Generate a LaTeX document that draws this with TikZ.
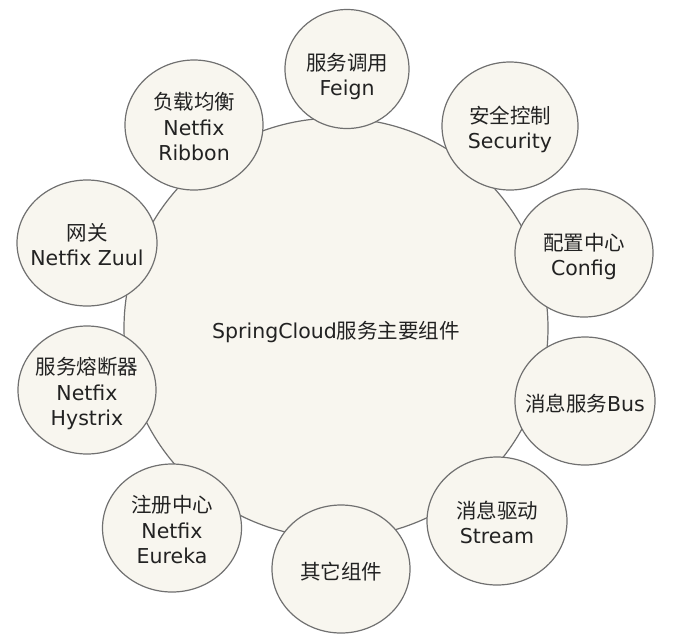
\documentclass[tikz,border=0pt]{standalone}
\usepackage{fontspec}
\setmainfont{DejaVu Sans}
\newfontfamily\cjk{Noto Sans CJK SC}
\usetikzlibrary{shapes.geometric}
\definecolor{rim}{RGB}{112,112,112}
\definecolor{cream}{RGB}{248,246,239}
\definecolor{ink}{RGB}{34,34,34}
% text that does not widen the ellipse round it
\newcommand{\partlines}[2][-5pt]{\raisebox{#1}[\height][\depth]{\makebox[0pt]{\begin{tabular}{@{}c@{}}#2\end{tabular}}}}
\begin{document}
\begin{tikzpicture}[x=1pt,y=-1pt,
    part/.style={ellipse, draw=rim, line width=1.2pt, fill=cream, inner sep=0pt,
        text=ink, font=\fontsize{20.5}{25.5}\selectfont,
        minimum width=138, minimum height=128}]
    \useasboundingbox (0,0) rectangle (674,641);

    % the big one in the middle
    \node[part, minimum width=424, minimum height=420] (core) at (336,328) {\partlines{SpringCloud{\cjk 服务主要组件}}};

    % the parts round it, clockwise from the top
    \node[part, minimum width=124, minimum height=119] (feign) at (347,69) {\partlines[-9pt]{{\cjk 服务调用}\\Feign}};
    \node[part, minimum width=136] (security) at (510,126) {\partlines{{\cjk 安全控制}\\Security}};
    \node[part] (config) at (584,253) {\partlines{{\cjk 配置中心}\\Config}};
    \node[part, minimum width=140] (bus) at (585,401) {\partlines{{\cjk 消息服务}Bus}};
    \node[part, minimum width=140] (stream) at (497,521) {\partlines{{\cjk 消息驱动}\\Stream}};
    \node[part] (other) at (341,569) {\partlines{{\cjk 其它组件}}};
    \node[part, minimum width=139] (eureka) at (172,528) {\partlines{{\cjk 注册中心}\\Netfix\\Eureka}};
    \node[part] (hystrix) at (87,390) {\partlines{{\cjk 服务熔断器}\\Netfix\\Hystrix}};
    \node[part, minimum width=140, minimum height=126] (zuul) at (87,243) {\partlines{{\cjk 网关}\\Netfix Zuul}};
    \node[part, minimum height=130] (ribbon) at (194,125) {\partlines{{\cjk 负载均衡}\\Netfix\\Ribbon}};

\end{tikzpicture}
\end{document}
